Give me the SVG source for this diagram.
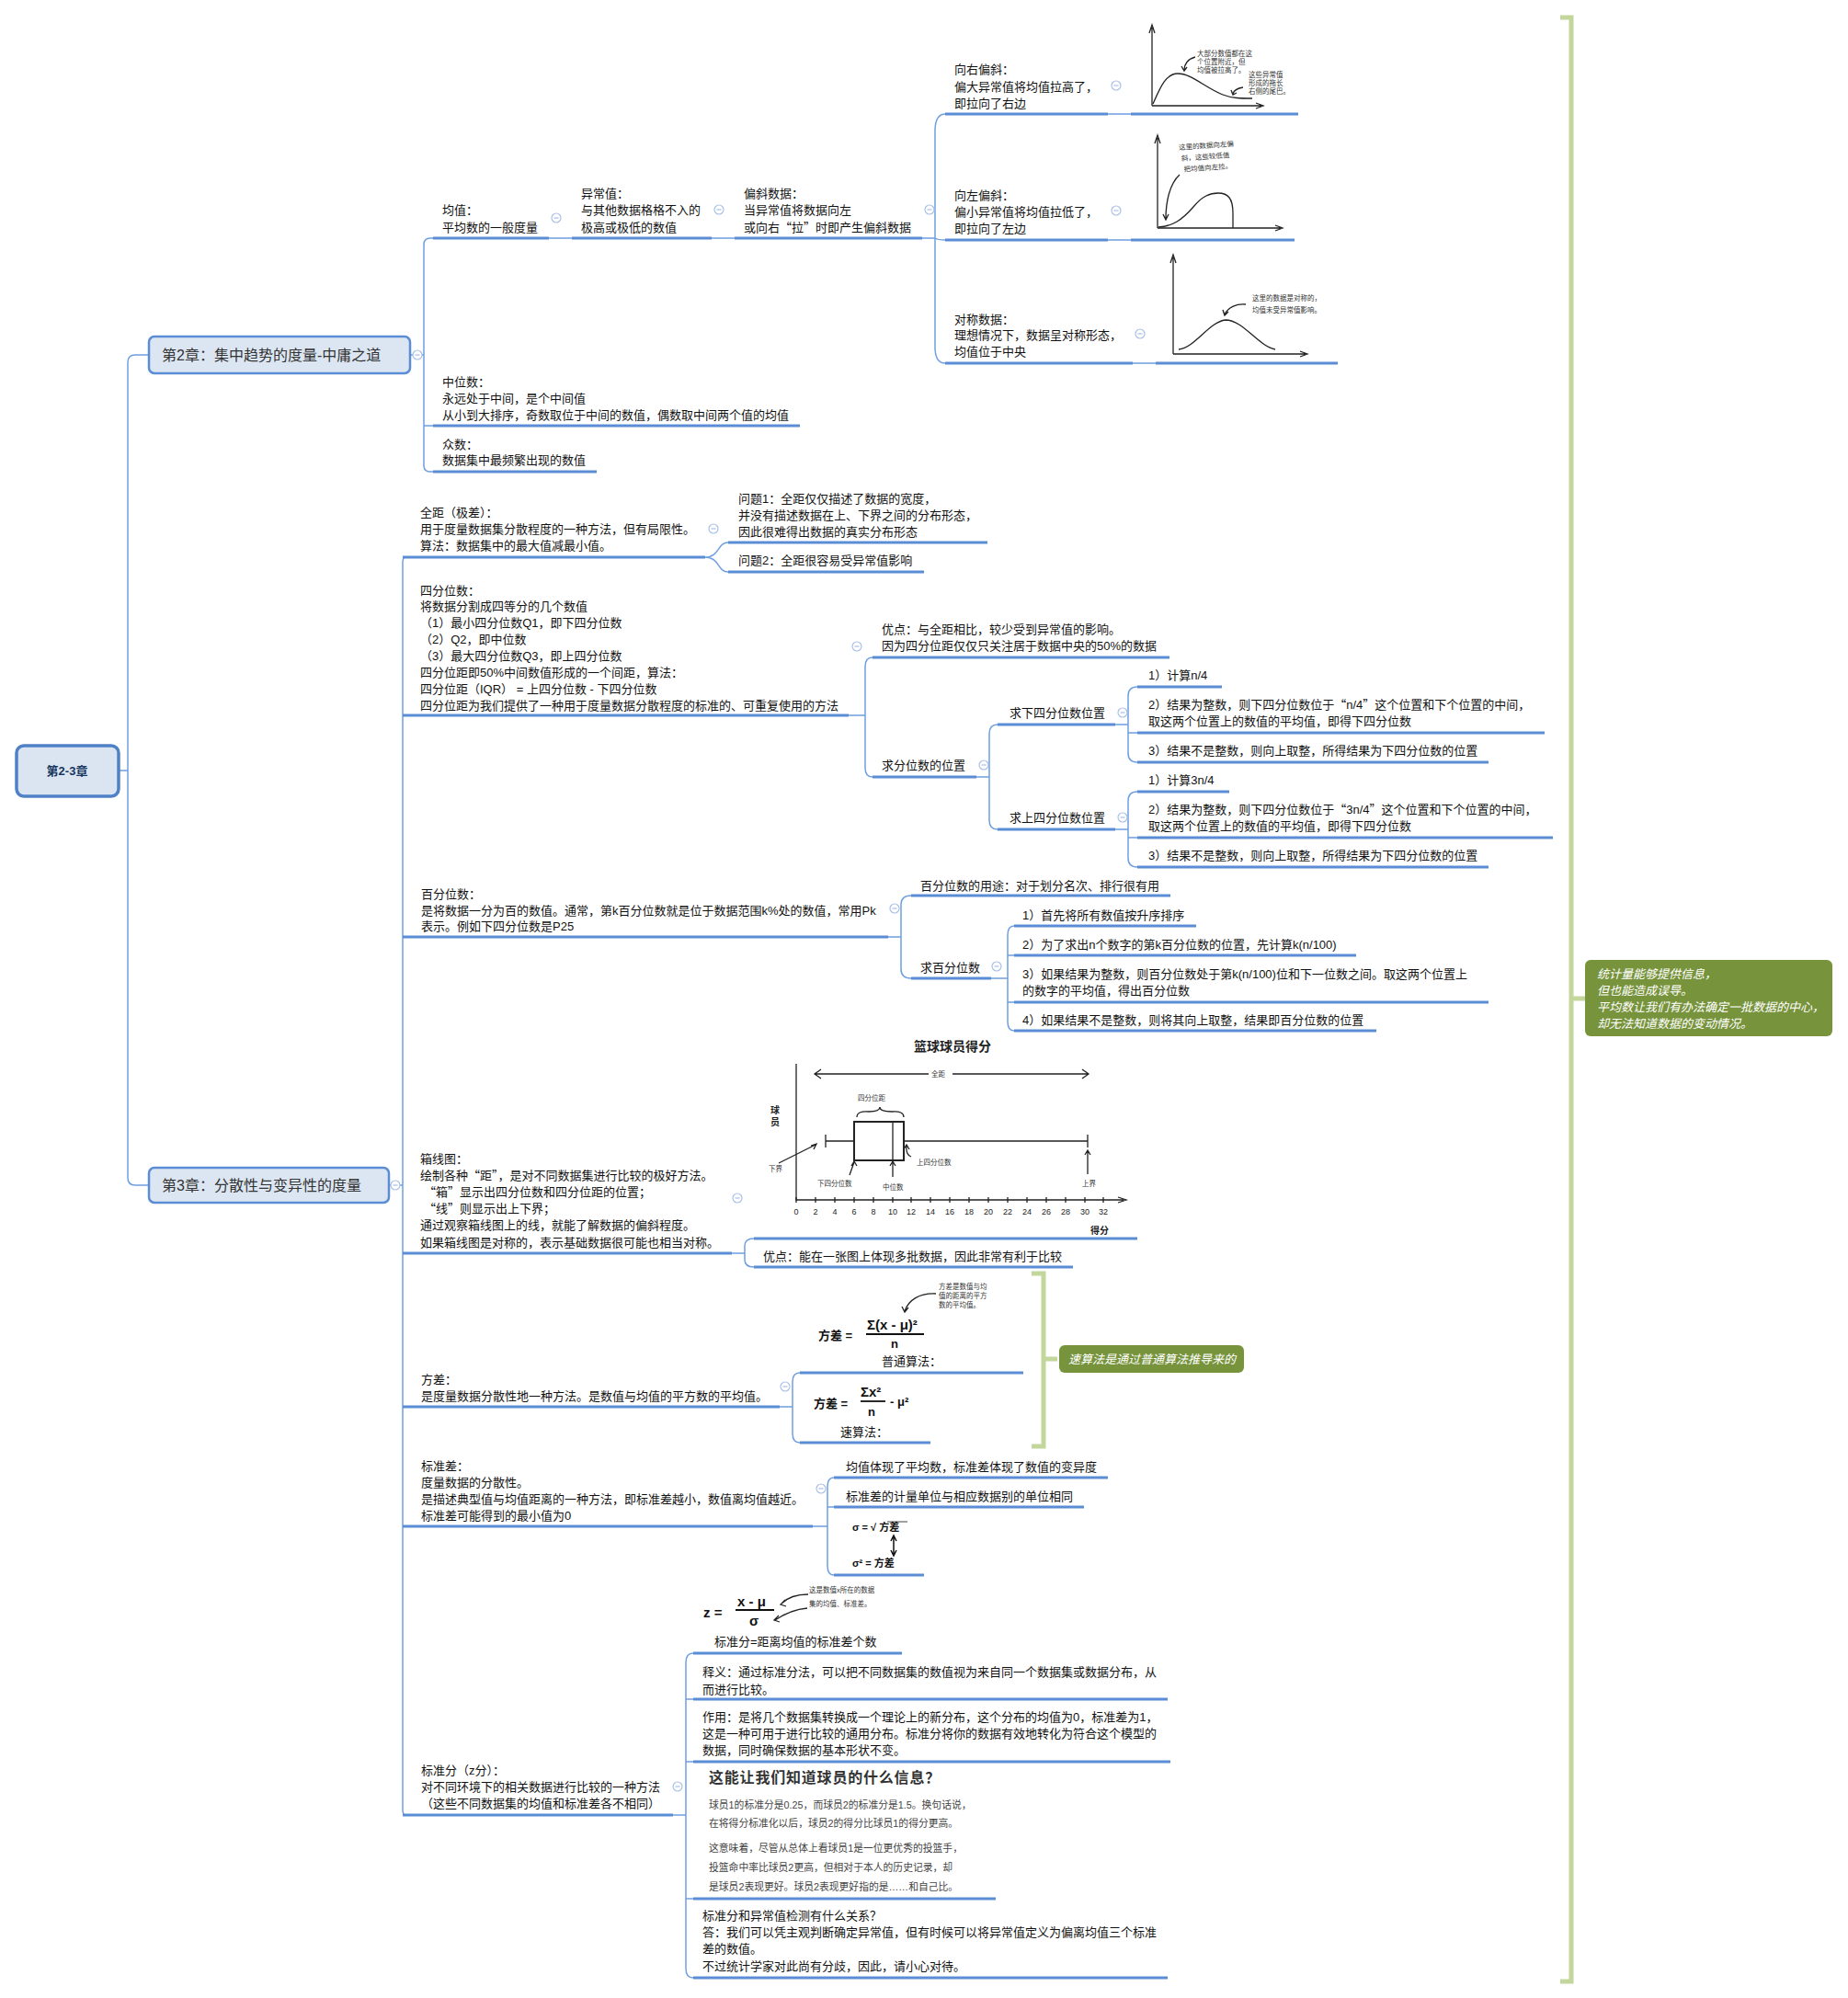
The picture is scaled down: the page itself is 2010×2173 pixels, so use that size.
<svg xmlns="http://www.w3.org/2000/svg" width="2010" height="2173" viewBox="0 0 2010 2173">
<defs>
<style>
text{font-family:"Liberation Sans","Noto Sans CJK SC",sans-serif}
.q{font-family:"Noto Sans CJK SC",sans-serif}
.t{font-size:13px;fill:#111}
.u{stroke:#5a8dd5;stroke-width:3;fill:none}
.c{stroke:#6f9fe0;stroke-width:1.5;fill:none}
.box{fill:#dce6f2;stroke:#5b8dd5;stroke-width:2.5}
.h{font-size:16px;fill:#333}
.hand{font-size:7.5px;fill:#333}
.ink{stroke:#222;fill:none;stroke-width:1.3}
.f{font-weight:bold;fill:#111}
.gb{stroke:#c3d69b;stroke-width:5;fill:none}
.note{fill:#77933c}
.nt{font-size:13px;fill:#fff;font-style:italic}
</style>
<g id="ico"><circle r="5" fill="#fff" stroke="#a9c0e6" stroke-width="1.2"/><path d="M-2.5 0H2.5" stroke="#a9c0e6" stroke-width="1.2"/></g>
</defs>
<rect width="2010" height="2173" fill="#fff"/>

<!-- connectors -->
<g id="connectors">
<path class="c" d="M129 838H139M162 386H147Q139 386 139 394V1281Q139 1289 147 1289H162"/>
<path class="c" d="M446 386H461M471 259H468Q461 259 461 266V506Q461 513 468 513H471M461 463H471"/>
<path class="c" d="M597 259H622M774 259H799"/>
<path class="c" d="M1003 259H1017M1028 124Q1018 124 1017 140V380Q1018 395 1028 395M1017 259Q1020 261 1028 261"/>
<path class="c" d="M1205 124H1230M1205 261H1230M1232 395H1257"/>
<path class="c" d="M423 1289H438M441 606Q438 606 438 612V1968Q438 1974 441 1974"/>
<path class="c" d="M767 606C783 606 780 590 792 590M767 606C783 606 780 622 792 622"/>
<path class="c" d="M923 778H941M949 715Q941 715 941 725V835Q941 845 949 845"/>
<path class="c" d="M1062 845H1076M1085 788Q1076 788 1076 798V892Q1076 902 1085 902"/>
<path class="c" d="M1213 788H1227M1237 747Q1227 747 1227 757V819Q1227 829 1237 829M1227 797H1237"/>
<path class="c" d="M1213 902H1227M1237 861Q1227 861 1227 871V933Q1227 943 1237 943M1227 911H1237"/>
<path class="c" d="M966 1019H980M991 974Q980 974 980 984V1054Q980 1064 991 1064"/>
<path class="c" d="M1078 1064H1096M1103 1007Q1096 1007 1096 1017V1111Q1096 1121 1103 1121M1096 1039H1103M1096 1090H1103"/>
<path class="c" d="M796 1363H810M820 1347Q810 1347 810 1355V1370Q810 1378 820 1378"/>
<path class="c" d="M848 1530H862M870 1493Q862 1493 862 1503V1559Q862 1569 870 1569"/>
<path class="c" d="M884 1660H900M907 1607Q900 1607 900 1617V1703Q900 1713 907 1713M900 1639H907"/>
<path class="c" d="M732 1974H746M754 1798Q746 1798 746 1808V2141Q746 2151 754 2151M746 1848H754M746 1916H754M746 2065H754"/>
</g>

<!-- root -->
<g id="root">
<rect x="18" y="811" width="111" height="55" rx="8" fill="#dbe5f1" stroke="#4f81c7" stroke-width="3.5"/>
<text x="73" y="843" text-anchor="middle" font-size="13" font-weight="bold" fill="#17365d">第2-3章</text>
</g>

<!-- chapter 2 -->
<g id="ch2">
<rect class="box" x="162" y="366" width="284" height="40" rx="6"/>
<text class="h" x="176" y="392">第2章：集中趋势的度量-中庸之道</text>
<use href="#ico" transform="translate(454,386)"/>
</g>
<g id="n-mean"><text class="t"><tspan x="481" y="233">均值：</tspan><tspan x="481" y="252">平均数的一般度量</tspan></text><path class="u" d="M471 259H597"/><use href="#ico" transform="translate(605,237)"/></g>
<g id="n-outlier"><text class="t"><tspan x="632" y="215">异常值：</tspan><tspan x="632" y="233">与其他数据格格不入的</tspan><tspan x="632" y="252">极高或极低的数值</tspan></text><path class="u" d="M622 259H774"/><use href="#ico" transform="translate(782,228)"/></g>
<g id="n-skew"><text class="t"><tspan x="809" y="215">偏斜数据：</tspan><tspan x="809" y="233">当异常值将数据向左</tspan><tspan x="809" y="252">或向右<tspan class="q">“</tspan>拉<tspan class="q">”</tspan>时即产生偏斜数据</tspan></text><path class="u" d="M799 259H1003"/><use href="#ico" transform="translate(1011,228)"/></g>

<g id="n-right"><text class="t"><tspan x="1038" y="80">向右偏斜：</tspan><tspan x="1038" y="99">偏大异常值将均值拉高了，</tspan><tspan x="1038" y="117">即拉向了右边</tspan></text><path class="u" d="M1028 124H1205"/><use href="#ico" transform="translate(1214,93)"/></g>
<g id="img-right">
<path class="ink" d="M1253 115V30M1250 36L1253 27L1256 36M1253 115H1372M1366 112L1374 115L1366 118"/>
<path class="ink" stroke-width="1.8" d="M1254 113C1262 95 1268 80 1281 80C1296 80 1310 95 1330 103C1340 107 1350 107 1362 107"/>
<path class="ink" stroke-width="0.9" d="M1300 62C1292 64 1288 70 1288 76M1285 72L1288 77L1291 73M1352 95C1346 96 1342 98 1341 102M1339 98L1341 103L1345 101"/>
<text class="hand"><tspan x="1302" y="61">大部分数值都在这</tspan><tspan x="1302" y="70">个位置附近，但</tspan><tspan x="1302" y="79">均值被拉高了。</tspan></text>
<text class="hand" font-size="7"><tspan x="1358" y="84">这些异常值</tspan><tspan x="1358" y="93">形成的拖长</tspan><tspan x="1358" y="102">右侧的尾巴。</tspan></text>
<path class="u" d="M1230 124H1412"/>
</g>

<g id="n-left"><text class="t"><tspan x="1038" y="217">向左偏斜：</tspan><tspan x="1038" y="235">偏小异常值将均值拉低了，</tspan><tspan x="1038" y="253">即拉向了左边</tspan></text><path class="u" d="M1028 261H1205"/><use href="#ico" transform="translate(1214,229)"/></g>
<g id="img-left">
<path class="ink" d="M1259 248V150M1256 156L1259 147L1262 156M1259 248H1393M1387 245L1395 248L1387 251"/>
<path class="ink" stroke-width="1.8" d="M1260 247C1275 246 1285 240 1298 225C1308 213 1316 210 1325 210C1336 210 1341 216 1341 232V248"/>
<path class="ink" stroke-width="0.9" d="M1283 190C1272 200 1268 220 1268 238M1265 233L1268 239L1271 233"/>
<text class="hand" transform="rotate(-4 1284 175)"><tspan x="1283" y="163">这里的数据向左偏</tspan><tspan x="1285" y="175">斜，这些较低值</tspan><tspan x="1287" y="187">把均值向左拉。</tspan></text>
<path class="u" d="M1230 261H1408"/>
</g>

<g id="n-sym"><text class="t"><tspan x="1038" y="352">对称数据：</tspan><tspan x="1038" y="369">理想情况下，数据呈对称形态，</tspan><tspan x="1038" y="387">均值位于中央</tspan></text><path class="u" d="M1028 395H1232"/><use href="#ico" transform="translate(1240,363)"/></g>
<g id="img-sym">
<path class="ink" d="M1276 385V280M1273 286L1276 277L1279 286M1276 385H1420M1414 382L1422 385L1414 388"/>
<path class="ink" stroke="#555" stroke-width="1.4" d="M1282 380C1300 378 1315 350 1333 348C1352 348 1368 376 1387 380"/>
<path class="ink" stroke-width="0.9" d="M1355 331C1345 330 1336 334 1332 342M1330 337L1332 343L1336 339"/>
<text class="hand"><tspan x="1362" y="327">这里的数据是对称的，</tspan><tspan x="1362" y="340">均值未受异常值影响。</tspan></text>
<path class="u" d="M1257 395H1455"/>
</g>

<g id="n-median"><text class="t"><tspan x="481" y="420">中位数：</tspan><tspan x="481" y="438">永远处于中间，是个中间值</tspan><tspan x="481" y="456">从小到大排序，奇数取位于中间的数值，偶数取中间两个值的均值</tspan></text><path class="u" d="M471 463H870"/></g>
<g id="n-mode"><text class="t"><tspan x="481" y="488">众数：</tspan><tspan x="481" y="505">数据集中最频繁出现的数值</tspan></text><path class="u" d="M471 513H649"/></g>

<!-- chapter 3 -->
<g id="ch3">
<rect class="box" x="162" y="1270" width="261" height="38" rx="6"/>
<text class="h" x="176" y="1295">第3章：分散性与变异性的度量</text>
<use href="#ico" transform="translate(430,1289)"/>
</g>

<g id="n-range"><text class="t"><tspan x="457" y="562">全距（极差）：</tspan><tspan x="457" y="580">用于度量数据集分散程度的一种方法，但有局限性。</tspan><tspan x="457" y="598">算法：数据集中的最大值减最小值。</tspan></text><path class="u" d="M438 606H767"/><use href="#ico" transform="translate(776,575)"/></g>
<g id="n-q1"><text class="t"><tspan x="803" y="547">问题1：全距仅仅描述了数据的宽度，</tspan><tspan x="803" y="565">并没有描述数据在上、下界之间的分布形态，</tspan><tspan x="803" y="583">因此很难得出数据的真实分布形态</tspan></text><path class="u" d="M792 590H1074"/></g>
<g id="n-q2"><text class="t" x="803" y="614">问题2：全距很容易受异常值影响</text><path class="u" d="M792 622H1005"/></g>

<g id="n-quart"><text class="t"><tspan x="457" y="647">四分位数：</tspan><tspan x="457" y="664">将数据分割成四等分的几个数值</tspan><tspan x="457" y="682">（1）最小四分位数Q1，即下四分位数</tspan><tspan x="457" y="700">（2）Q2，即中位数</tspan><tspan x="457" y="718">（3）最大四分位数Q3，即上四分位数</tspan><tspan x="457" y="736">四分位距即50%中间数值形成的一个间距，算法：</tspan><tspan x="457" y="754">四分位距（IQR） = 上四分位数 - 下四分位数</tspan><tspan x="457" y="772">四分位距为我们提供了一种用于度量数据分散程度的标准的、可重复使用的方法</tspan></text><path class="u" d="M438 778H923"/><use href="#ico" transform="translate(932,703)"/></g>
<g id="n-adv"><text class="t"><tspan x="959" y="689">优点：与全距相比，较少受到异常值的影响。</tspan><tspan x="959" y="707">因为四分位距仅仅只关注居于数据中央的50%的数据</tspan></text><path class="u" d="M949 715H1272"/></g>
<g id="n-pos"><text class="t" x="959" y="837">求分位数的位置</text><path class="u" d="M949 845H1062"/><use href="#ico" transform="translate(1070,832)"/></g>
<g id="n-lowq"><text class="t" x="1098" y="780">求下四分位数位置</text><path class="u" d="M1085 788H1213"/><use href="#ico" transform="translate(1221,775)"/></g>
<g id="n-upq"><text class="t" x="1098" y="894">求上四分位数位置</text><path class="u" d="M1085 902H1213"/><use href="#ico" transform="translate(1221,889)"/></g>
<g id="n-l1"><text class="t" x="1249" y="739">1）计算n/4</text><path class="u" d="M1237 747H1329"/></g>
<g id="n-l2"><text class="t"><tspan x="1249" y="771">2）结果为整数，则下四分位数位于<tspan class="q">“</tspan>n/4<tspan class="q">”</tspan>这个位置和下个位置的中间，</tspan><tspan x="1249" y="789">取这两个位置上的数值的平均值，即得下四分位数</tspan></text><path class="u" d="M1237 797H1680"/></g>
<g id="n-l3"><text class="t" x="1249" y="821">3）结果不是整数，则向上取整，所得结果为下四分位数的位置</text><path class="u" d="M1237 829H1619"/></g>
<g id="n-u1"><text class="t" x="1249" y="853">1）计算3n/4</text><path class="u" d="M1237 861H1337"/></g>
<g id="n-u2"><text class="t"><tspan x="1249" y="885">2）结果为整数，则下四分位数位于<tspan class="q">“</tspan>3n/4<tspan class="q">”</tspan>这个位置和下个位置的中间，</tspan><tspan x="1249" y="903">取这两个位置上的数值的平均值，即得下四分位数</tspan></text><path class="u" d="M1237 911H1689"/></g>
<g id="n-u3"><text class="t" x="1249" y="935">3）结果不是整数，则向上取整，所得结果为下四分位数的位置</text><path class="u" d="M1237 943H1619"/></g>

<g id="n-pct"><text class="t"><tspan x="458" y="977">百分位数：</tspan><tspan x="458" y="995">是将数据一分为百的数值。通常，第k百分位数就是位于数据范围k%处的数值，常用Pk</tspan><tspan x="458" y="1012">表示。例如下四分位数是P25</tspan></text><path class="u" d="M438 1019H966"/><use href="#ico" transform="translate(973,988)"/></g>
<g id="n-pctuse"><text class="t" x="1001" y="968">百分位数的用途：对于划分名次、排行很有用</text><path class="u" d="M991 974H1273"/></g>
<g id="n-pctfind"><text class="t" x="1001" y="1057">求百分位数</text><path class="u" d="M991 1064H1078"/><use href="#ico" transform="translate(1084,1051)"/></g>
<g id="n-p1"><text class="t" x="1112" y="1000">1）首先将所有数值按升序排序</text><path class="u" d="M1103 1007H1301"/></g>
<g id="n-p2"><text class="t" x="1112" y="1032">2）为了求出n个数字的第k百分位数的位置，先计算k(n/100)</text><path class="u" d="M1103 1039H1475"/></g>
<g id="n-p3"><text class="t"><tspan x="1112" y="1064">3）如果结果为整数，则百分位数处于第k(n/100)位和下一位数之间。取这两个位置上</tspan><tspan x="1112" y="1082">的数字的平均值，得出百分位数</tspan></text><path class="u" d="M1103 1090H1619"/></g>
<g id="n-p4"><text class="t" x="1112" y="1114">4）如果结果不是整数，则将其向上取整，结果即百分位数的位置</text><path class="u" d="M1103 1121H1497"/></g>

<g id="n-box"><text class="t"><tspan x="457" y="1265">箱线图：</tspan><tspan x="457" y="1283">绘制各种<tspan class="q">“</tspan>距<tspan class="q">”</tspan>，是对不同数据集进行比较的极好方法。</tspan><tspan x="461" y="1301"><tspan class="q">“</tspan>箱<tspan class="q">”</tspan>显示出四分位数和四分位距的位置；</tspan><tspan x="461" y="1319"><tspan class="q">“</tspan>线<tspan class="q">”</tspan>则显示出上下界；</tspan><tspan x="457" y="1337">通过观察箱线图上的线，就能了解数据的偏斜程度。</tspan><tspan x="457" y="1356">如果箱线图是对称的，表示基础数据很可能也相当对称。</tspan></text><path class="u" d="M438 1363H796"/><use href="#ico" transform="translate(802,1303)"/></g>
<g id="img-boxplot">
<text x="994" y="1143" font-size="14" font-weight="bold" fill="#222">篮球球员得分</text>
<path class="ink" d="M866 1157V1305H1222M1216 1302L1225 1305L1216 1308"/>
<path class="ink" d="M866 1302v6M887 1302v6M908 1302v6M929 1302v6M950 1302v6M971 1302v6M991 1302v6M1012 1302v6M1033 1302v6M1054 1302v6M1075 1302v6M1096 1302v6M1117 1302v6M1138 1302v6M1159 1302v6M1180 1302v6M1200 1302v6"/>
<g font-size="9" fill="#222" text-anchor="middle">
<text x="866" y="1321">0</text><text x="887" y="1321">2</text><text x="908" y="1321">4</text><text x="929" y="1321">6</text><text x="950" y="1321">8</text><text x="971" y="1321">10</text><text x="991" y="1321">12</text><text x="1012" y="1321">14</text><text x="1033" y="1321">16</text><text x="1054" y="1321">18</text><text x="1075" y="1321">20</text><text x="1096" y="1321">22</text><text x="1117" y="1321">24</text><text x="1138" y="1321">26</text><text x="1159" y="1321">28</text><text x="1180" y="1321">30</text><text x="1200" y="1321">32</text>
</g>
<text x="1186" y="1342" font-size="10" font-weight="bold" fill="#222">得分</text>
<text font-size="10" font-weight="bold" fill="#222"><tspan x="838" y="1211">球</tspan><tspan x="838" y="1224">员</tspan></text>
<rect x="929" y="1220" width="54" height="42" fill="none" stroke="#222" stroke-width="2"/>
<path class="ink" stroke-width="2" d="M971 1220V1262M898 1241H929M983 1241H1183M898 1234V1248M1183 1234V1248"/>
<path class="ink" stroke-width="1" d="M887 1168H1010M1036 1168H1183M893 1163L886 1168L893 1173M1177 1163L1184 1168L1177 1173"/>
<text class="hand" x="1013" y="1171">全距</text>
<text class="hand" x="933" y="1197">四分位距</text>
<path class="ink" stroke-width="1" d="M932 1215Q932 1208 945 1209Q957 1209 957 1204Q957 1209 970 1209Q983 1208 983 1215"/>
<path class="ink" stroke-width="0.9" d="M847 1265L887 1245M882 1246L888 1244L885 1250M924 1278L929 1264M926 1268L929 1263L932 1268M971 1280V1264M968 1268L971 1263L974 1268M991 1258Q985 1256 986 1246M983 1250L986 1245L989 1250M1183 1277V1252M1180 1256L1183 1251L1186 1256"/>
<text class="hand" x="836" y="1274">下界</text>
<text class="hand" x="889" y="1290">下四分位数</text>
<text class="hand" x="960" y="1294">中位数</text>
<text class="hand" x="997" y="1267">上四分位数</text>
<text class="hand" x="1177" y="1290">上界</text>
<path class="u" d="M820 1347H1237"/>
</g>
<g id="n-boxadv"><text class="t" x="830" y="1371">优点：能在一张图上体现多批数据，因此非常有利于比较</text><path class="u" d="M820 1378H1167"/></g>

<g id="n-var"><text class="t"><tspan x="458" y="1505">方差：</tspan><tspan x="458" y="1523">是度量数据分散性地一种方法。是数值与均值的平方数的平均值。</tspan></text><path class="u" d="M438 1530H848"/><use href="#ico" transform="translate(854,1508)"/></g>
<g id="n-var1">
<text class="f" x="890" y="1457" font-size="13">方差 =</text>
<text class="f" x="943" y="1446" font-size="15">Σ(x - μ)²</text>
<path d="M942 1451H1005" stroke="#111" stroke-width="1.8"/>
<text class="f" x="969" y="1466" font-size="13">n</text>
<path class="ink" stroke="#555" stroke-width="0.9" d="M1018 1407C1000 1406 988 1414 984 1426M981 1421L984 1427L988 1422"/>
<text class="hand" font-size="7" fill="#555"><tspan x="1021" y="1402">方差是数值与均</tspan><tspan x="1021" y="1412">值的距离的平方</tspan><tspan x="1021" y="1422">数的平均值。</tspan></text>
<text class="t" x="959" y="1485">普通算法：</text>
<path class="u" d="M870 1493H1113"/>
</g>
<g id="n-var2">
<text class="f" x="885" y="1531" font-size="13">方差 =</text>
<text class="f" x="936" y="1519" font-size="15">Σx²</text>
<path d="M936 1524H963" stroke="#111" stroke-width="1.8"/>
<text class="f" x="944" y="1540" font-size="13">n</text>
<text class="f" x="968" y="1529" font-size="13">- μ²</text>
<text class="t" x="914" y="1562">速算法：</text>
<path class="u" d="M870 1569H1012"/>
</g>
<g id="sum-var">
<path class="gb" d="M1122 1385H1135V1573H1122M1135 1478H1150"/>
<rect class="note" x="1152" y="1463" width="201" height="30" rx="6"/>
<text class="nt" x="1162" y="1483">速算法是通过普通算法推导来的</text>
</g>

<g id="n-sd"><text class="t"><tspan x="458" y="1599">标准差：</tspan><tspan x="458" y="1617">度量数据的分散性。</tspan><tspan x="458" y="1635">是描述典型值与均值距离的一种方法，即标准差越小，数值离均值越近。</tspan><tspan x="458" y="1653">标准差可能得到的最小值为0</tspan></text><path class="u" d="M438 1660H884"/><use href="#ico" transform="translate(893,1619)"/></g>
<g id="n-sd1"><text class="t" x="920" y="1600">均值体现了平均数，标准差体现了数值的变异度</text><path class="u" d="M907 1607H1205"/></g>
<g id="n-sd2"><text class="t" x="920" y="1632">标准差的计量单位与相应数据别的单位相同</text><path class="u" d="M907 1639H1179"/></g>
<g id="n-sd3">
<text class="f" x="927" y="1665" font-size="11">σ = √ 方差</text>
<path d="M965 1655H987" stroke="#111" stroke-width="0.8"/>
<path d="M972 1672V1690M969 1676L972 1670L975 1676M969 1686L972 1692L975 1686" stroke="#111" stroke-width="1.5" fill="none"/>
<text class="f" x="927" y="1704" font-size="11">σ² =  方差</text>
<path class="u" d="M907 1713H1005"/>
</g>

<g id="n-z"><text class="t"><tspan x="458" y="1930">标准分（z分）：</tspan><tspan x="458" y="1948">对不同环境下的相关数据进行比较的一种方法</tspan><tspan x="458" y="1966">（这些不同数据集的均值和标准差各不相同）</tspan></text><path class="u" d="M438 1974H732"/><use href="#ico" transform="translate(737,1943)"/></g>
<g id="n-z1">
<text class="f" x="765" y="1759" font-size="15">z =</text>
<text class="f" x="802" y="1747" font-size="15">x - μ</text>
<path d="M800 1751H842" stroke="#111" stroke-width="1.8"/>
<text class="f" x="815" y="1768" font-size="15">σ</text>
<path class="ink" stroke-width="0.9" d="M879 1734C866 1734 856 1738 850 1744M854 1740L849 1745L855 1747M878 1749C866 1750 852 1756 843 1762M847 1757L842 1762L848 1764"/>
<text class="hand" font-size="7"><tspan x="880" y="1732">这是数值x所在的数据</tspan><tspan x="880" y="1747">集的均值、标准差。</tspan></text>
<text class="t" x="777" y="1790">标准分=距离均值的标准差个数</text>
<path class="u" d="M754 1798H981"/>
</g>
<g id="n-z2"><text class="t"><tspan x="764" y="1823">释义：通过标准分法，可以把不同数据集的数值视为来自同一个数据集或数据分布，从</tspan><tspan x="764" y="1842">而进行比较。</tspan></text><path class="u" d="M754 1848H1270"/></g>
<g id="n-z3"><text class="t"><tspan x="764" y="1872">作用：是将几个数据集转换成一个理论上的新分布，这个分布的均值为0，标准差为1，</tspan><tspan x="764" y="1890">这是一种可用于进行比较的通用分布。标准分将你的数据有效地转化为符合这个模型的</tspan><tspan x="764" y="1908">数据，同时确保数据的基本形状不变。</tspan></text><path class="u" d="M754 1916H1273"/></g>
<g id="n-z4">
<text x="771" y="1939" font-size="16" font-weight="bold" fill="#333" letter-spacing="0.8">这能让我们知道球员的什么信息？</text>
<text font-size="10.8" fill="#444"><tspan x="771" y="1967">球员1的标准分是0.25，而球员2的标准分是1.5。换句话说，</tspan><tspan x="771" y="1987">在将得分标准化以后，球员2的得分比球员1的得分更高。</tspan><tspan x="771" y="2014">这意味着，尽管从总体上看球员1是一位更优秀的投篮手，</tspan><tspan x="771" y="2035">投篮命中率比球员2更高，但相对于本人的历史记录，却</tspan><tspan x="771" y="2056">是球员2表现更好。球员2表现更好指的是……和自己比。</tspan></text>
<path class="u" d="M754 2065H1083"/>
</g>
<g id="n-z5"><text class="t"><tspan x="764" y="2088">标准分和异常值检测有什么关系？</tspan><tspan x="764" y="2106">答：我们可以凭主观判断确定异常值，但有时候可以将异常值定义为偏离均值三个标准</tspan><tspan x="764" y="2124">差的数值。</tspan><tspan x="764" y="2143">不过统计学家对此尚有分歧，因此，请小心对待。</tspan></text><path class="u" d="M754 2151H1270"/></g>

<!-- main summary -->
<g id="sum-main">
<path class="gb" d="M1697 19H1709V2155H1697M1709 1086H1724"/>
<rect class="note" x="1724" y="1044" width="269" height="83" rx="6"/>
<text class="nt"><tspan x="1737" y="1064">统计量能够提供信息，</tspan><tspan x="1737" y="1082">但也能造成误导。</tspan><tspan x="1737" y="1100">平均数让我们有办法确定一批数据的中心，</tspan><tspan x="1737" y="1118">却无法知道数据的变动情况。</tspan></text>
</g>
</svg>
